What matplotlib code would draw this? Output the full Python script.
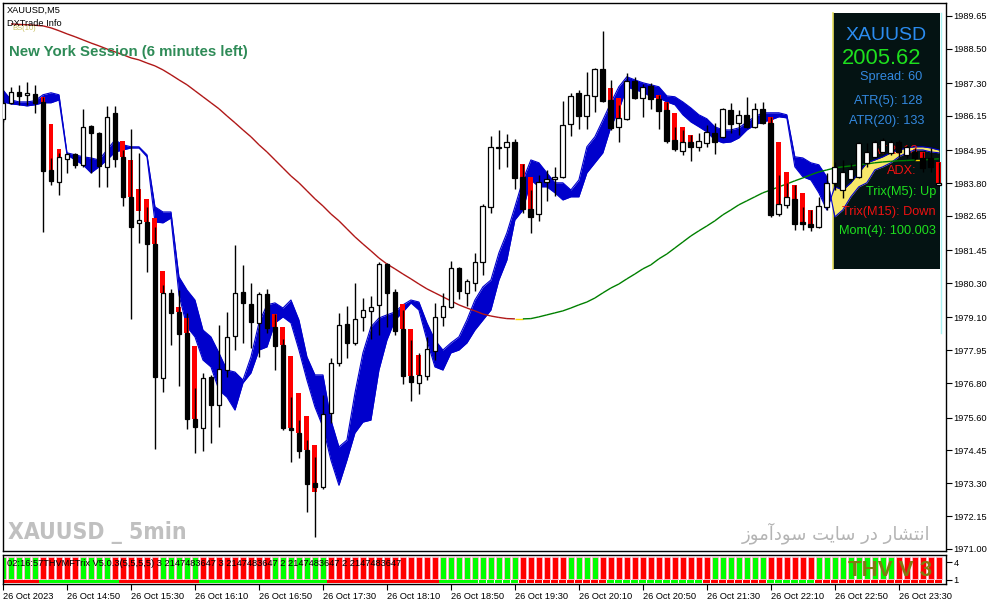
import numpy as np
import matplotlib.pyplot as plt
from matplotlib.patches import Rectangle
from matplotlib.collections import LineCollection

W, H = 991, 605

# ---- candles (XAUUSD M5, 14:10 .. 23:55) ----
opens = [1986.05, 1986.61, 1986.99, 1986.89, 1986.92, 1986.64, 1984.26, 1983.84, 1984.65, 1984.82,
         1984.44, 1985.80, 1985.56, 1984.37, 1986.26, 1984.72, 1983.32, 1982.41, 1982.44, 1981.67,
         1976.98, 1979.96, 1979.29, 1978.56, 1975.55, 1975.23, 1977.02, 1976.04, 1977.26, 1978.45,
         1979.99, 1979.57, 1978.91, 1979.92, 1978.76, 1978.14, 1975.23, 1975.06, 1974.46, 1973.30,
         1973.16, 1975.76, 1977.51, 1978.87, 1978.21, 1979.12, 1979.33, 1979.54, 1980.97, 1979.99,
         1978.70, 1977.05, 1976.81, 1977.05, 1977.93, 1979.12, 1979.47, 1980.83, 1979.96, 1980.31,
         1981.04, 1982.97, 1985.03, 1985.07, 1985.24, 1984.02, 1982.90, 1982.72, 1983.84, 1983.95,
         1984.02, 1985.87, 1986.96, 1986.15, 1986.85, 1987.80, 1986.71, 1985.77, 1986.05, 1987.38,
         1986.78, 1987.20, 1986.75, 1986.36, 1985.31, 1984.93, 1985.24, 1985.07, 1985.21, 1985.56,
         1985.42, 1986.36, 1985.91, 1986.19, 1985.77, 1986.40, 1985.91, 1982.72, 1983.04, 1983.25,
         1982.44, 1982.37, 1982.27, 1982.97, 1983.81, 1983.56, 1983.95, 1984.02, 1984.51, 1984.72,
         1984.89, 1984.86, 1985.24, 1984.79, 1984.89, 1984.68, 1984.68, 1983.74]
highs = [1986.71, 1987.17, 1987.24, 1987.34, 1987.24, 1986.82, 1984.68, 1984.86, 1984.86, 1984.86,
         1986.40, 1985.84, 1985.59, 1986.50, 1986.50, 1984.96, 1985.70, 1984.86, 1982.97, 1982.27,
         1980.24, 1980.09, 1980.06, 1979.26, 1976.63, 1977.16, 1977.09, 1978.84, 1979.29, 1981.64,
         1980.94, 1980.31, 1979.99, 1980.09, 1979.22, 1978.35, 1976.31, 1975.51, 1974.81, 1974.22,
         1976.38, 1977.68, 1979.26, 1979.50, 1980.31, 1979.78, 1979.85, 1981.04, 1981.01, 1980.09,
         1979.36, 1978.31, 1977.86, 1978.42, 1979.61, 1979.96, 1981.08, 1980.87, 1980.45, 1981.36,
         1983.07, 1985.45, 1985.66, 1985.52, 1985.35, 1984.47, 1983.56, 1984.09, 1984.26, 1984.37,
         1986.68, 1986.96, 1987.06, 1987.69, 1987.83, 1989.13, 1987.41, 1986.54, 1987.66, 1987.52,
         1987.27, 1987.31, 1986.89, 1986.64, 1985.77, 1985.66, 1985.49, 1985.56, 1985.84, 1985.91,
         1986.43, 1986.61, 1986.36, 1986.82, 1986.61, 1986.64, 1986.12, 1984.09, 1983.81, 1983.74,
         1982.97, 1982.86, 1983.32, 1984.16, 1984.54, 1984.61, 1984.51, 1985.24, 1985.21, 1985.31,
         1985.38, 1985.31, 1985.31, 1985.14, 1985.03, 1984.89, 1985.03, 1984.54]
lows = [1985.94, 1986.57, 1986.54, 1986.54, 1986.26, 1982.09, 1983.74, 1983.39, 1984.16, 1984.33,
        1984.37, 1984.16, 1983.67, 1983.67, 1984.37, 1983.00, 1979.05, 1981.71, 1980.69, 1974.50,
        1976.49, 1978.14, 1976.70, 1975.20, 1974.36, 1974.43, 1974.71, 1975.27, 1977.02, 1977.96,
        1978.21, 1978.03, 1977.72, 1978.56, 1977.26, 1975.16, 1974.04, 1974.18, 1972.29, 1971.42,
        1973.09, 1975.41, 1977.40, 1977.68, 1978.14, 1978.63, 1978.35, 1978.49, 1978.77, 1978.49,
        1976.77, 1976.18, 1976.42, 1976.91, 1977.61, 1978.80, 1979.43, 1979.75, 1979.50, 1980.03,
        1980.59, 1982.75, 1984.30, 1984.37, 1983.60, 1982.75, 1982.05, 1982.48, 1983.18, 1983.35,
        1983.98, 1985.45, 1985.70, 1985.70, 1986.29, 1986.64, 1985.66, 1985.24, 1986.01, 1986.75,
        1986.12, 1986.40, 1985.70, 1985.21, 1984.93, 1984.79, 1984.58, 1984.93, 1985.07, 1984.82,
        1985.38, 1985.56, 1985.49, 1985.73, 1985.73, 1985.87, 1982.62, 1982.65, 1982.93, 1982.16,
        1982.16, 1982.13, 1982.23, 1982.86, 1983.56, 1983.28, 1983.88, 1983.98, 1984.37, 1984.68,
        1984.86, 1984.79, 1984.72, 1984.68, 1984.61, 1984.19, 1984.19, 1983.71]
closes = [1986.61, 1986.99, 1986.85, 1986.96, 1986.61, 1984.23, 1983.88, 1984.72, 1984.82, 1984.44,
          1985.77, 1985.56, 1984.40, 1986.12, 1984.65, 1983.32, 1982.27, 1982.51, 1981.67, 1977.02,
          1979.96, 1979.26, 1978.52, 1975.55, 1975.27, 1976.98, 1976.04, 1977.30, 1978.42, 1979.96,
          1979.61, 1978.94, 1979.92, 1978.73, 1978.10, 1975.23, 1975.16, 1974.43, 1973.27, 1973.16,
          1975.72, 1977.51, 1978.84, 1978.21, 1979.05, 1979.36, 1979.47, 1980.97, 1979.96, 1978.63,
          1977.05, 1976.84, 1977.09, 1978.00, 1979.12, 1979.50, 1980.83, 1980.03, 1980.38, 1981.04,
          1983.00, 1985.07, 1985.03, 1985.24, 1983.98, 1982.90, 1982.62, 1983.84, 1983.95, 1984.02,
          1985.84, 1986.85, 1986.15, 1986.89, 1987.80, 1986.68, 1985.73, 1986.08, 1987.38, 1986.78,
          1987.17, 1986.75, 1986.33, 1985.28, 1985.00, 1985.24, 1985.07, 1985.28, 1985.59, 1985.24,
          1986.40, 1985.87, 1986.19, 1985.77, 1986.40, 1985.91, 1982.69, 1983.07, 1983.32, 1982.37,
          1982.37, 1982.27, 1983.00, 1983.81, 1984.37, 1984.19, 1984.30, 1985.21, 1984.89, 1985.24,
          1985.31, 1985.24, 1984.89, 1985.07, 1984.68, 1984.33, 1984.37, 1983.81]

# red signal bars drawn behind some candles
red_idx = [5, 6, 7, 15, 16, 17, 18, 19, 20, 22, 23, 24, 34, 35, 36, 37, 38, 39, 50, 51, 52,
           65, 66, 76, 77, 82, 83, 84, 85, 86, 96, 97, 98, 99, 100, 101, 115, 117]
red_top = [1986.82, 1985.87, 1985.00, 1985.28, 1984.61, 1983.60, 1983.25, 1982.58, 1980.73, 1979.47,
           1979.08, 1978.10, 1979.22, 1978.76, 1977.75, 1976.45, 1975.65, 1974.64, 1979.57, 1978.70,
           1977.79, 1984.47, 1984.02, 1987.13, 1986.78, 1986.89, 1986.64, 1986.26, 1985.77, 1985.49,
           1986.12, 1985.24, 1984.19, 1983.74, 1983.46, 1982.86, 1984.89, 1984.54]
red_bot = [1986.64, 1984.26, 1984.72, 1984.72, 1983.32, 1982.83, 1982.44, 1981.67, 1979.96, 1979.29,
           1978.56, 1975.55, 1978.76, 1978.14, 1975.23, 1975.06, 1974.46, 1972.99, 1978.70, 1977.05,
           1977.09, 1984.02, 1982.90, 1986.71, 1986.08, 1986.75, 1986.36, 1985.31, 1985.24, 1985.24,
           1985.91, 1983.07, 1983.32, 1983.25, 1982.41, 1982.37, 1984.68, 1983.81]

# cloud spans (blue where span_b above span_a, yellow otherwise)
span_b = [1987.06, 1986.71, 1986.64, 1986.64, 1986.68, 1986.89, 1986.96, 1986.89, 1984.86, 1984.79,
          1984.72, 1984.68, 1984.61, 1984.96, 1985.31, 1985.14, 1985.07, 1985.07, 1984.79, 1982.97,
          1982.79, 1982.79, 1980.52, 1980.06, 1979.71, 1978.66, 1978.42, 1977.86, 1977.26, 1977.19,
          1976.91, 1977.72, 1978.91, 1979.54, 1979.61, 1979.43, 1979.71, 1979.01, 1977.72, 1977.09,
          1977.09, 1975.51, 1974.57, 1974.81, 1976.45, 1977.86, 1978.77, 1979.08, 1979.19, 1979.29,
          1979.54, 1979.71, 1979.64, 1978.91, 1978.31, 1977.96, 1978.21, 1978.42, 1979.01, 1979.71,
          1980.17, 1980.41, 1981.36, 1982.06, 1982.97, 1983.91, 1984.61, 1984.51, 1984.16, 1983.81,
          1983.81, 1983.56, 1983.91, 1985.07, 1985.42, 1986.01, 1986.61, 1987.17, 1987.52, 1987.41,
          1987.31, 1987.24, 1987.17, 1986.85, 1986.82, 1986.64, 1986.43, 1986.19, 1986.05, 1985.77,
          1985.66, 1985.66, 1985.73, 1985.94, 1986.12, 1986.26, 1986.26, 1986.26, 1986.19, 1984.72,
          1984.68, 1984.51, 1984.44, 1984.02, 1982.62, 1982.86, 1983.32, 1983.67, 1983.81, 1984.26,
          1984.37, 1984.51, 1984.72, 1984.86, 1984.96, 1984.96, 1984.89, 1984.86]
span_a = [1986.64, 1986.57, 1986.54, 1986.50, 1986.54, 1986.61, 1986.61, 1986.71, 1984.79, 1984.61,
          1984.44, 1984.16, 1984.37, 1984.61, 1984.89, 1984.96, 1985.03, 1985.03, 1984.72, 1982.44,
          1982.41, 1982.58, 1979.89, 1978.77, 1978.42, 1977.61, 1977.37, 1976.56, 1976.31, 1975.86,
          1976.81, 1977.16, 1977.96, 1978.07, 1978.91, 1979.12, 1978.91, 1977.96, 1976.91, 1975.97,
          1975.27, 1974.11, 1973.23, 1974.11, 1975.06, 1975.44, 1975.51, 1977.26, 1978.31, 1979.01,
          1979.29, 1979.61, 1979.36, 1978.31, 1977.37, 1977.26, 1977.86, 1977.96, 1978.21, 1978.66,
          1979.01, 1979.36, 1980.41, 1981.11, 1982.51, 1982.86, 1983.91, 1983.67, 1983.67, 1983.46,
          1983.21, 1983.32, 1983.32, 1984.16, 1984.51, 1984.86, 1985.77, 1986.36, 1987.17, 1987.06,
          1986.99, 1986.82, 1986.78, 1986.64, 1986.54, 1986.19, 1985.94, 1985.77, 1985.59, 1985.31,
          1985.21, 1985.24, 1985.38, 1985.66, 1985.84, 1985.94, 1986.01, 1986.12, 1986.08, 1984.37,
          1984.02, 1983.91, 1983.46, 1982.86, 1983.67, 1983.56, 1983.81, 1984.16, 1984.51, 1984.61,
          1984.72, 1984.86, 1984.96, 1985.03, 1985.07, 1985.07, 1985.03, 1984.96]

# long moving average (starts at the 2nd bar)
ma = [np.nan, 1989.37, 1989.35, 1989.34, 1989.32, 1989.30, 1989.23, 1989.13, 1989.02, 1988.92,
      1988.81, 1988.70, 1988.60, 1988.49, 1988.39, 1988.29, 1988.18, 1988.11, 1988.00, 1987.90,
      1987.76, 1987.59, 1987.41, 1987.24, 1987.03, 1986.82, 1986.61, 1986.40, 1986.15, 1985.91,
      1985.66, 1985.42, 1985.14, 1984.89, 1984.61, 1984.33, 1984.05, 1983.81, 1983.53, 1983.25,
      1983.00, 1982.72, 1982.48, 1982.20, 1981.92, 1981.67, 1981.43, 1981.18, 1980.97, 1980.80,
      1980.62, 1980.45, 1980.27, 1980.10, 1979.96, 1979.82, 1979.68, 1979.54, 1979.43, 1979.33,
      1979.22, 1979.15, 1979.10, 1979.06, 1979.05, 1979.05, 1979.06, 1979.12, 1979.19, 1979.26,
      1979.33, 1979.43, 1979.54, 1979.64, 1979.78, 1979.96, 1980.13, 1980.27, 1980.45, 1980.62,
      1980.80, 1980.94, 1981.15, 1981.32, 1981.53, 1981.74, 1981.95, 1982.13, 1982.30, 1982.48,
      1982.69, 1982.86, 1983.04, 1983.18, 1983.32, 1983.46, 1983.56, 1983.67, 1983.77, 1983.88,
      1983.98, 1984.09, 1984.19, 1984.26, 1984.33, 1984.37, 1984.40, 1984.44, 1984.47, 1984.51,
      1984.54, 1984.56, 1984.58, 1984.59, 1984.61, 1984.61, 1984.63, 1984.65]

# THVMFTrix sub window: G = up, R = down
trix_fast = "GGGGGRRRRRGGGGRRRRRRGGGGGRRRRRRRRRGGGGGGGRRRRRRRRRRRRRRGGGGGGGGGGRRRRRRGGGGRRRRRRRRRRRRRRGGGGGGGRRRRRRGGGGGGGGGGRRRRRR"
trix_slow = "RRRRRGGGGGGGGGGRRRRRRRRRRGGGGGGGGGGGGGGGGRRRRRRRRRRRRRRGGGGGGGGGGRRRRRRRRRRRGGGGGGGGGGGGRRRRRRRRGGGGGGRRRRRRRRRRRRRRRR"

price_ticks = [1971.00, 1972.15, 1973.30, 1974.45, 1975.60, 1976.80, 1977.95, 1979.10, 1980.30,
               1981.45, 1982.65, 1983.80, 1984.95, 1986.15, 1987.30, 1988.50, 1989.65]
time_labels = ['26 Oct 2023', '26 Oct 14:50', '26 Oct 15:30', '26 Oct 16:10', '26 Oct 16:50',
               '26 Oct 17:30', '26 Oct 18:10', '26 Oct 18:50', '26 Oct 19:30', '26 Oct 20:10',
               '26 Oct 20:50', '26 Oct 21:30', '26 Oct 22:10', '26 Oct 22:50', '26 Oct 23:30']

plt.rcParams['font.family'] = ['Liberation Sans', 'DejaVu Sans']
small = 6.7

fig = plt.figure(figsize=(W / 100, H / 100), dpi=100)
ax = fig.add_axes([3 / W, 1 - 551 / H, 943 / W, 548 / H])
ax2 = fig.add_axes([3 / W, 1 - 584 / H, 943 / W, 29 / H])

n = len(opens)
x = np.arange(n)
o = np.array(opens); c = np.array(closes)
hi = np.array(highs); lo = np.array(lows)


def axpt(px, py):
    # pixel position in the picture -> axes fraction of the main chart
    return (px - 3) / 943, (551 - py) / 548


# info panel in the background
ax.add_patch(Rectangle(axpt(833, 269), 107 / 943, 256 / 548, transform=ax.transAxes,
                       facecolor='#041313', edgecolor='none', zorder=0.5))
ax.plot([axpt(833, 0)[0]] * 2, [axpt(0, 13)[1], axpt(0, 269)[1]], transform=ax.transAxes,
        color='#e8e060', lw=1.2, zorder=0.6)
ax.plot([axpt(941, 0)[0]] * 2, [axpt(0, 13)[1], axpt(0, 333)[1]], transform=ax.transAxes,
        color='#a8f4f4', lw=1, zorder=0.6)

panel_texts = [
    ('XAUUSD', 886, 36, 14, '#2b8cf0', 'center'),
    ('2005.62', 882, 59, 15.8, '#1ee01e', 'center'),
    ('Spread: 60', 922, 77, 9.2, '#3389e0', 'right'),
    ('ATR(5): 128', 922, 101, 9.2, '#3389e0', 'right'),
    ('ATR(20): 133', 924, 121, 9.2, '#3389e0', 'right'),
    ('ATR: 13', 917, 151, 9.2, '#ee1111', 'right'),
    ('ADX:', 917, 171, 9.2, '#ee1111', 'right'),
    ('Trix(M5): Up', 936, 192, 9.2, '#1ee01e', 'right'),
    ('Trix(M15): Down', 936, 212, 9.2, '#ee1111', 'right'),
    ('Mom(4): 100.003', 936, 231, 9.2, '#1ee01e', 'right'),
]
for txt, px, py, fs, col, ha in panel_texts:
    ax.text(*axpt(px, py), txt, transform=ax.transAxes, fontsize=fs, color=col,
            ha=ha, va='center', zorder=2.5)

# cloud
sa = np.array(span_a); sb = np.array(span_b)
ax.fill_between(x, sa, sb, where=sb >= sa, interpolate=True, color='#0000cc', lw=0, zorder=2)
ax.fill_between(x, sa, sb, where=sb < sa, interpolate=True, color='#f7e86a', lw=0, zorder=2)
ax.plot(x, sa, color='#0000cc', lw=0.8, zorder=2.1)
ax.plot(x, sb, color='#0000cc', lw=0.8, zorder=2.1)

# moving average, coloured by direction
m = np.array(ma)
segs, cols = [], []
for i in range(1, n - 1):
    if np.isnan(m[i]):
        continue
    segs.append([(x[i], m[i]), (x[i + 1], m[i + 1])])
    d = m[i + 1] - m[i]
    cols.append('#b01818' if d < 0 else ('#008000' if d > 0 else '#ffd700'))
ax.add_collection(LineCollection(segs, colors=cols, linewidths=1, zorder=2.2))

# red signal bars, wicks, bodies
rt = np.array(red_top); rb = np.array(red_bot)
ax.bar(red_idx, rt - rb, bottom=rb, width=0.62, color='#ff0000', lw=0, zorder=3)
ax.vlines(x, lo, hi, color='black', lw=1, zorder=3.5)
up = c >= o
body_lo = np.minimum(o, c)
body_h = np.maximum(np.abs(c - o), 0.02)
ax.bar(x[up], body_h[up], bottom=body_lo[up], width=0.6, facecolor='white',
       edgecolor='black', lw=0.9, zorder=4)
ax.bar(x[~up], body_h[~up], bottom=body_lo[~up], width=0.6, facecolor='black',
       edgecolor='black', lw=0.9, zorder=4)

ax.set_xlim(0, 117.9)
ax.set_ylim(1970.93, 1990.10)
ax.yaxis.tick_right()
ax.set_yticks(price_ticks)
ax.set_yticklabels([f'{v:.2f}' for v in price_ticks])
ax.tick_params(axis='y', direction='out', length=4, width=0.8, pad=1.5, labelsize=small)
ax.set_xticks([])
for s in ax.spines.values():
    s.set_linewidth(1)

# top-left labels
fig.text(7 / W, 1 - 10 / H, 'XAUUSD,M5', fontsize=small, va='center')
fig.text(12 / W, 1 - 29 / H, 'BS(10)', fontsize=5.5, color='#c8c060', va='center')
fig.text(7 / W, 1 - 23 / H, 'DXTrade Info', fontsize=small, va='center')
fig.text(9 / W, 1 - 52 / H, 'New York Session (6 minutes left)', fontsize=10.8,
         fontweight='bold', color='#2e8b57', va='center')

# watermarks
ax.text(*axpt(8, 533), 'XAUUSD _ 5min', transform=ax.transAxes, fontsize=16.5,
        fontweight='bold', fontstretch='condensed', color='#c0c0c0',
        family=['DejaVu Sans'], ha='left', va='center', zorder=1)
# "انتشار در سایت سودآموز" written in shaped presentation forms (visual order)
persian = '\ufeaf\ufeee\ufee3\ufe81\ufea9\ufeee\ufeb3 \ufe96\ufef3\ufe8e\ufeb3 \ufead\ufea9 \ufead\ufe8e\ufeb8\ufe98\ufee7\ufe8d'
ax.text(*axpt(930, 533), persian, transform=ax.transAxes, fontsize=13, color='#b4b4b4',
        family=['DejaVu Sans'], ha='right', va='center', zorder=1)

# sub window
colmap = {'G': '#00ff00', 'R': '#ff0000'}
ax2.bar(x, 3.66, bottom=1.17, width=0.8, color=[colmap[k] for k in trix_fast],
        edgecolor='#ffb8c8', lw=0.6)
ax2.bar(x, 0.6, bottom=0.45, width=0.9, color=[colmap[k] for k in trix_slow], lw=0)
ax2.text(4 / 943, 0.72, '02:16:57THVMFTrix V5.0.3(5,5,5,5) 3 2147483647 3 2147483647 2 2147483647 2 2147483647',
         transform=ax2.transAxes, fontsize=small, va='center', ha='left')
ax2.text((890 - 3) / 943, 0.45, 'THV V 3', transform=ax2.transAxes, fontsize=16,
         fontweight='bold', color='#807a10', ha='center', va='center')
ax2.set_xlim(0, 117.9)
ax2.set_ylim(0.333, 5.167)
ax2.yaxis.tick_right()
ax2.set_yticks([1, 4])
ax2.set_yticklabels(['1', '4'])
ax2.set_xticks(np.arange(0, n, 8))
ax2.set_xticklabels(time_labels, ha='left')
ax2.tick_params(direction='out', length=4, width=0.8, pad=1.5, labelsize=small)
for s in ax2.spines.values():
    s.set_linewidth(1)

fig.savefig('out.png', dpi=100)
